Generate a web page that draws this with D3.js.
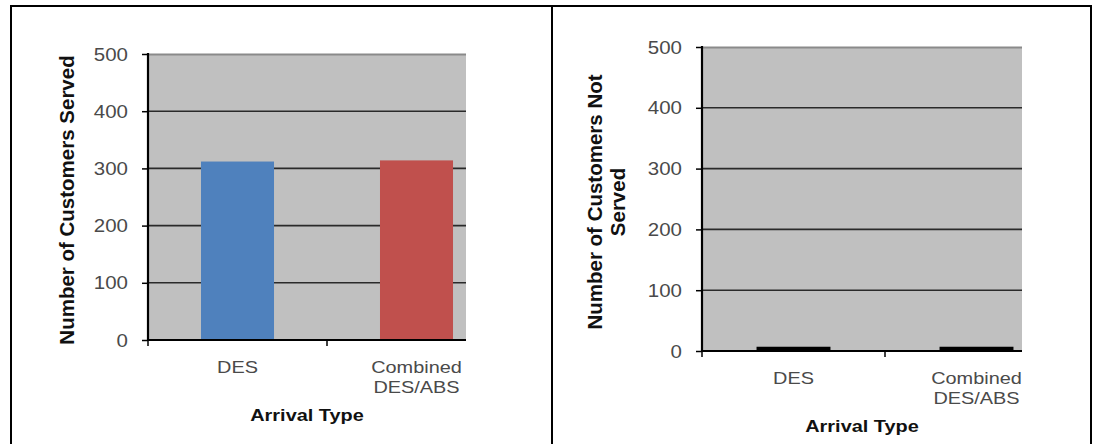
<!DOCTYPE html>
<html>
<head>
<meta charset="utf-8">
<script src="https://cdn.jsdelivr.net/npm/d3@7"></script>
<style>
  html, body { margin: 0; padding: 0; background: #ffffff; }
  svg { display: block; }
  text { font-family: "Liberation Sans", Arial, sans-serif; }
</style>
</head>
<body>
<svg id="chart" width="1101" height="444"></svg>
<script>
// ---- data ----
const categories = ["DES", "Combined DES/ABS"];
const categoryLabelLines = [["DES"], ["Combined", "DES/ABS"]];
const servedValues = [312, 314];
const notServedValues = [7, 7];
const yTickValues = [0, 100, 200, 300, 400, 500];
const servedColors = ["#4f81bd", "#c0504d"];
const notServedColors = ["#000000", "#000000"];
const xTitle = "Arrival Type";
const servedTitle = ["Number of Customers Served"];
const notServedTitle = ["Number of Customers Not", "Served"];

const svg = d3.select("#chart");
const STRETCH = 1.17;

// outer table frame
const frame = svg.append("g").attr("stroke", "#000").attr("stroke-width", 2).attr("fill", "none");
frame.append("line").attr("x1", 10).attr("x2", 1092).attr("y1", 6).attr("y2", 6);
frame.append("line").attr("x1", 11).attr("x2", 11).attr("y1", 5).attr("y2", 444);
frame.append("line").attr("x1", 552).attr("x2", 552).attr("y1", 5).attr("y2", 444);
frame.append("line").attr("x1", 1091).attr("x2", 1091).attr("y1", 5).attr("y2", 444);

function stretchedText(g, x, y, str, opts) {
  return g.append("text")
    .attr("transform", `translate(${x},${y}) scale(${STRETCH},1)`)
    .attr("text-anchor", opts.anchor || "middle")
    .attr("font-size", opts.size)
    .attr("font-weight", opts.weight || "normal")
    .attr("fill", opts.fill || "#333")
    .text(str);
}

function drawPanel(cfg) {
  const g = svg.append("g");
  const x = d3.scaleBand().domain(categories)
    .range([cfg.left, cfg.bandRight])
    .paddingInner(cfg.pad).paddingOuter(cfg.pad / 2);
  const y = d3.scaleLinear().domain([0, 500]).range([cfg.bottom, cfg.top]);

  const clipId = "clip" + cfg.id;
  svg.append("clipPath").attr("id", clipId).append("rect")
    .attr("x", cfg.left).attr("y", cfg.top - 2)
    .attr("width", cfg.clipRight - cfg.left).attr("height", cfg.bottom - cfg.top + 10);

  const plot = g.append("g").attr("clip-path", `url(#${clipId})`);
  plot.append("rect")
    .attr("x", cfg.left).attr("y", y(500))
    .attr("width", cfg.bandRight - cfg.left).attr("height", y(0) - y(500))
    .attr("fill", "#c0c0c0");
  plot.append("line")
    .attr("x1", cfg.left).attr("x2", cfg.bandRight)
    .attr("y1", y(500) + 0.5).attr("y2", y(500) + 0.5)
    .attr("stroke", "#8a8a8a").attr("stroke-width", 2);
  plot.selectAll("line.grid").data(yTickValues.filter(v => v > 0 && v < 500)).enter()
    .append("line").attr("class", "grid")
    .attr("x1", cfg.left).attr("x2", cfg.bandRight)
    .attr("y1", d => y(d)).attr("y2", d => y(d))
    .attr("stroke", "#2a2a2a").attr("stroke-width", 1.6);
  plot.selectAll("rect.bar").data(cfg.values).enter()
    .append("rect").attr("class", "bar")
    .attr("x", (d, i) => x(categories[i]))
    .attr("width", x.bandwidth())
    .attr("y", d => y(d))
    .attr("height", d => y(0) - y(d))
    .attr("fill", (d, i) => cfg.colors[i]);

  const xAxis = d3.axisBottom(x).tickSize(0).tickFormat("");
  const xg = plot.append("g").attr("transform", `translate(0,${cfg.bottom})`).call(xAxis);
  xg.select(".domain").attr("stroke", "#000").attr("stroke-width", 2)
    .attr("d", `M${cfg.left},0H${cfg.bandRight}`);
  const step = x.step();
  const boundaries = categories.map((c, i) => x(categories[0]) - step * cfg.pad / 2 + i * step);
  g.selectAll("line.xtick").data(boundaries).enter()
    .append("line").attr("class", "xtick")
    .attr("x1", d => d).attr("x2", d => d)
    .attr("y1", cfg.bottom).attr("y2", cfg.bottom + 6)
    .attr("stroke", "#000").attr("stroke-width", 1.5);

  const yAxis = d3.axisLeft(y).tickValues(yTickValues).tickSize(6).tickPadding(14)
    .tickFormat(d3.format("d"));
  const yg = g.append("g").attr("transform", `translate(${cfg.left},0)`).call(yAxis);
  yg.select(".domain").attr("stroke", "#000").attr("stroke-width", 2.2)
    .attr("d", `M0,${cfg.top - 1}V${cfg.bottom + 1}`);
  yg.selectAll(".tick line").attr("stroke", "#000").attr("stroke-width", 1.5);
  yg.selectAll(".tick text").remove();
  yg.selectAll(".tick").each(function(d) {
    stretchedText(d3.select(this), -20, 6, d3.format("d")(d),
      {anchor: "end", size: 17.5, fill: "#4a4a4a"});
  });

  categoryLabelLines.forEach((lines, i) => {
    const cx = x(categories[i]) + x.bandwidth() / 2;
    lines.forEach((ln, j) => {
      stretchedText(g, cx, cfg.bottom + 33 + j * 20, ln, {size: 17, fill: "#4a4a4a"});
    });
  });

  stretchedText(g, (cfg.left + cfg.clipRight) / 2, cfg.bottom + 81, xTitle,
    {size: 17, weight: "bold", fill: "#111"});

  const cy = (cfg.top + cfg.bottom) / 2 + 3;
  cfg.title.forEach((ln, j) => {
    g.append("text")
      .attr("transform", `translate(${cfg.titleX[j]},${cy}) rotate(-90)`)
      .attr("text-anchor", "middle")
      .attr("font-size", 20.5)
      .attr("font-weight", "bold")
      .attr("fill", "#111")
      .text(ln);
  });
}

drawPanel({
  id: "L", left: 148, bandRight: 506, clipRight: 466, top: 54, bottom: 340,
  pad: 0.592, values: servedValues, colors: servedColors,
  title: servedTitle, titleX: [74]
});
drawPanel({
  id: "R", left: 702, bandRight: 1068, clipRight: 1022, top: 47, bottom: 351,
  pad: 0.596, values: notServedValues, colors: notServedColors,
  title: notServedTitle, titleX: [602, 625]
});
</script>
</body>
</html>
